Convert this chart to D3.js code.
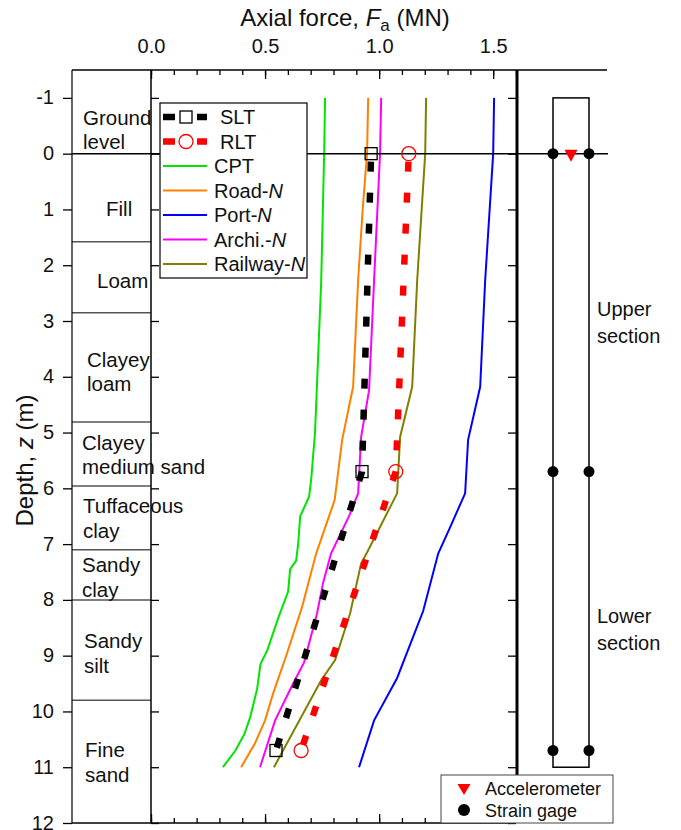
<!DOCTYPE html>
<html>
<head>
<meta charset="utf-8">
<script src="https://cdn.jsdelivr.net/npm/d3@7"></script>
<style>
  body { margin: 0; background: #fff; }
  svg { font-family: Arial, "Liberation Sans", sans-serif; }
</style>
</head>
<body>
<div id="chart"></div>
<script>
// ---- data (depth in m, axial force in MN) ----
const depthTicks = [-1, 0, 1, 2, 3, 4, 5, 6, 7, 8, 9, 10, 11, 12];
const forceTicks = [0.0, 0.5, 1.0, 1.5];

const sltData = [[0, 0.965], [5.7, 0.925], [10.7, 0.548]];
const rltData = [[0, 1.13], [5.7, 1.073], [10.7, 0.658]];

const cptData = [[-1, 0.763], [0, 0.759], [2.3, 0.746], [5.0, 0.719], [5.85, 0.702], [6.15, 0.693],
  [6.5, 0.654], [7.0, 0.645], [7.3, 0.636], [7.45, 0.61], [7.85, 0.601], [8.3, 0.56], [8.9, 0.51],
  [9.15, 0.48], [9.6, 0.465], [10.1, 0.435], [10.4, 0.41], [10.7, 0.37], [11, 0.315]];
const roadData = [[-1, 0.952], [0, 0.947], [1, 0.928], [2.26, 0.908], [4.18, 0.886], [5.13, 0.838],
  [6.21, 0.805], [7.17, 0.724], [8.13, 0.662], [8.96, 0.596], [9.68, 0.535], [10.16, 0.5],
  [10.57, 0.456], [11, 0.395]];
const portData = [[-1, 1.504], [0, 1.5], [2.26, 1.465], [4.18, 1.443], [5.13, 1.39], [6.09, 1.377],
  [6.7, 1.311], [7.17, 1.259], [8.2, 1.193], [9.4, 1.079], [10.16, 0.978], [11, 0.912]];
const archiData = [[-1, 1.009], [0, 1.004], [2.26, 0.978], [4.24, 0.956], [5.08, 0.921], [6.09, 0.908],
  [6.5, 0.868], [7.17, 0.789], [7.7, 0.754], [8.24, 0.728], [9.12, 0.671], [9.5, 0.623],
  [10.16, 0.544], [11, 0.478]];
const railData = [[-1, 1.206], [0, 1.202], [2.26, 1.167], [4.18, 1.145], [5.08, 1.092], [6.09, 1.079],
  [7.15, 0.947], [7.35, 0.921], [8.24, 0.873], [9.08, 0.807], [9.44, 0.746], [11, 0.539]];

const soilNames = [['Ground', 'level'], ['Fill'], ['Loam'], ['Clayey', 'loam'], ['Clayey', 'medium sand'],
  ['Tuffaceous', 'clay'], ['Sandy', 'clay'], ['Sandy', 'silt'], ['Fine', 'sand']];
const soilBounds = [0, 1.58, 2.85, 4.81, 5.96, 7.1, 8.0, 9.8];

const gageDepths = [0, 5.7, 10.7];
const accelDepths = [0];

// ---- layout ----
const width = 681, height = 830;
const soilLeft = 72, plotLeft = 151, plotRight = 516, panelRight = 607;
const pileLeft = 553, pileRight = 589;
const font = 'Arial, "Liberation Sans", sans-serif';

// where each soil label sits: [x, depth of first baseline]
const soilLabelPos = [[83, -0.52], [106, 1.11], [97, 2.41], [87, 3.82], [82, 5.31],
  [83, 6.45], [82, 7.5], [84, 8.87], [85, 10.82]];

const x = d3.scaleLinear().domain([0, 1.6]).range([plotLeft, plotRight]);
const y = d3.scaleLinear().domain([-1.5, 12]).range([70, 823]);

const svg = d3.select('#chart').append('svg')
  .attr('width', width).attr('height', height);

const line = d3.line().x(d => x(d[1])).y(d => y(d[0]));

// soil layer boundaries
svg.append('g').selectAll('line').data(soilBounds.slice(1)).join('line')
  .attr('x1', soilLeft).attr('x2', plotLeft)
  .attr('y1', d => y(d)).attr('y2', d => y(d))
  .attr('stroke', '#555').attr('stroke-width', 1.5);

// soil labels
const soilText = svg.append('g').attr('font-size', 20.5).attr('fill', '#111');
soilNames.forEach((lines, i) => {
  const [lx, ld] = soilLabelPos[i];
  lines.forEach((t, j) => {
    soilText.append('text').attr('x', lx).attr('y', y(ld) + j * 24.5).text(t);
  });
});

// model curves
const curves = [
  {data: cptData, color: '#00e600'},
  {data: roadData, color: '#ff8000'},
  {data: portData, color: '#0000ff'},
  {data: archiData, color: '#ff00ff'},
  {data: railData, color: '#808000'}
];
svg.append('g').selectAll('path').data(curves).join('path')
  .attr('d', d => line(d.data))
  .attr('fill', 'none')
  .attr('stroke', d => d.color)
  .attr('stroke-width', 2);

// measured load test lines
svg.append('path').attr('d', line(sltData))
  .attr('fill', 'none').attr('stroke', '#000')
  .attr('stroke-width', 6.5).attr('stroke-dasharray', '10,21').attr('stroke-dashoffset', -8);
svg.append('path').attr('d', line(rltData))
  .attr('fill', 'none').attr('stroke', '#ff0000')
  .attr('stroke-width', 6.5).attr('stroke-dasharray', '10,21').attr('stroke-dashoffset', -8);

// frame lines
const frame = svg.append('g').attr('stroke', '#000');
frame.append('line').attr('x1', soilLeft).attr('x2', panelRight).attr('y1', y(-1.5)).attr('y2', y(-1.5)).attr('stroke-width', 1.5);
frame.append('line').attr('x1', soilLeft).attr('x2', plotRight).attr('y1', y(12)).attr('y2', y(12)).attr('stroke-width', 1.5);
frame.append('line').attr('x1', soilLeft).attr('x2', soilLeft).attr('y1', y(-1.5)).attr('y2', y(12)).attr('stroke-width', 1.2);
frame.append('line').attr('x1', plotLeft).attr('x2', plotLeft).attr('y1', y(-1.5)).attr('y2', y(12)).attr('stroke-width', 1.5);
frame.append('line').attr('x1', plotRight + 1).attr('x2', plotRight + 1).attr('y1', y(-1.5)).attr('y2', y(12)).attr('stroke-width', 3);

// axes
function styleAxis(g) {
  g.select('.domain').remove();
  g.attr('font-family', font).attr('font-size', 20);
  g.selectAll('line').attr('stroke-width', 1.3);
  g.selectAll('text').attr('fill', '#111');
}
const minorTicks = d3.range(0, 1.601, 0.1);

svg.append('g').attr('transform', `translate(0,${y(-1.5)})`)
  .call(d3.axisTop(x).tickValues(minorTicks).tickSize(-5).tickFormat(''))
  .call(styleAxis);
svg.append('g').attr('transform', `translate(0,${y(-1.5)})`)
  .call(d3.axisTop(x).tickValues(forceTicks).tickSizeInner(-9).tickSizeOuter(0)
    .tickPadding(17).tickFormat(d3.format('.1f')))
  .call(styleAxis);
svg.append('g').attr('transform', `translate(0,${y(12)})`)
  .call(d3.axisBottom(x).tickValues(minorTicks).tickSize(-5).tickFormat(''))
  .call(styleAxis);
svg.append('g').attr('transform', `translate(0,${y(12)})`)
  .call(d3.axisBottom(x).tickValues(forceTicks).tickSize(-9).tickFormat(''))
  .call(styleAxis);

svg.append('g').attr('transform', `translate(${soilLeft},0)`)
  .call(d3.axisLeft(y).tickValues(depthTicks).tickSize(9).tickPadding(9).tickFormat(d => String(d)))
  .call(styleAxis)
  .call(g => g.selectAll('text').attr('dy', '0.3em'));
svg.append('g').attr('transform', `translate(${plotLeft},0)`)
  .call(d3.axisRight(y).tickValues(depthTicks).tickSize(8).tickFormat(''))
  .call(styleAxis);
svg.append('g').attr('transform', `translate(${plotRight},0)`)
  .call(d3.axisLeft(y).tickValues(depthTicks).tickSize(8).tickFormat(''))
  .call(styleAxis);

// axis titles
const xTitle = svg.append('text').attr('x', 345).attr('y', 26)
  .attr('text-anchor', 'middle').attr('font-size', 24).attr('fill', '#111');
xTitle.append('tspan').text('Axial force, ');
xTitle.append('tspan').attr('font-style', 'italic').text('F');
xTitle.append('tspan').attr('font-size', 17).attr('dy', 5).text('a');
xTitle.append('tspan').attr('dy', -5).text(' (MN)');

const yTitle = svg.append('text')
  .attr('transform', `translate(33,${y(5.5)}) rotate(-90)`)
  .attr('text-anchor', 'middle').attr('font-size', 24).attr('fill', '#111');
yTitle.append('tspan').text('Depth, ');
yTitle.append('tspan').attr('font-style', 'italic').text('z');
yTitle.append('tspan').text(' (m)');

// pile sketch on the right
svg.append('rect')
  .attr('x', pileLeft).attr('y', y(-1))
  .attr('width', pileRight - pileLeft).attr('height', y(11) - y(-1))
  .attr('fill', 'none').attr('stroke', '#000').attr('stroke-width', 1.5);

// ground line
svg.append('line')
  .attr('x1', soilLeft).attr('x2', panelRight + 1)
  .attr('y1', y(0)).attr('y2', y(0))
  .attr('stroke', '#000').attr('stroke-width', 1.5);

// measured markers
svg.append('g').selectAll('rect').data(sltData).join('rect')
  .attr('x', d => x(d[1]) - 6).attr('y', d => y(d[0]) - 6)
  .attr('width', 12).attr('height', 12)
  .attr('fill', 'none').attr('stroke', '#000').attr('stroke-width', 1.3);
svg.append('g').selectAll('circle').data(rltData).join('circle')
  .attr('cx', d => x(d[1])).attr('cy', d => y(d[0])).attr('r', 7)
  .attr('fill', 'none').attr('stroke', '#ff0000').attr('stroke-width', 1.3);

// sensors
const gages = gageDepths.flatMap(d => [[pileLeft, d], [pileRight, d]]);
svg.append('g').selectAll('circle').data(gages).join('circle')
  .attr('cx', d => d[0]).attr('cy', d => y(d[1])).attr('r', 5.5).attr('fill', '#000');
svg.append('g').selectAll('path').data(accelDepths).join('path')
  .attr('d', d => `M${(pileLeft + pileRight) / 2 - 6.5},${y(d) - 4}h13l-6.5,12z`)
  .attr('fill', '#ff0000');

// section labels
const secText = svg.append('g').attr('font-size', 20).attr('fill', '#111');
[['Upper', 'section', 316], ['Lower', 'section', 623]].forEach(([a, b, by]) => {
  secText.append('text').attr('x', 597).attr('y', by).text(a);
  secText.append('text').attr('x', 597).attr('y', by + 27).text(b);
});

// main legend
const legend = svg.append('g').attr('font-size', 20).attr('fill', '#111');
legend.append('rect').attr('x', 160).attr('y', 103).attr('width', 147).attr('height', 175)
  .attr('fill', '#fff').attr('stroke', '#000').attr('stroke-width', 1.2);
const legendItems = [
  {name: ['SLT'], color: '#000', kind: 'square'},
  {name: ['RLT'], color: '#ff0000', kind: 'circle'},
  {name: ['CPT'], color: '#00e600'},
  {name: ['Road-', 'N'], color: '#ff8000'},
  {name: ['Port-', 'N'], color: '#0000ff'},
  {name: ['Archi.-', 'N'], color: '#ff00ff'},
  {name: ['Railway-', 'N'], color: '#808000'}
];
legendItems.forEach((it, i) => {
  const ly = 117 + i * 24.5;
  if (it.kind) {
    legend.append('line').attr('x1', 163).attr('x2', 207).attr('y1', ly).attr('y2', ly)
      .attr('stroke', it.color).attr('stroke-width', 6.5).attr('stroke-dasharray', '12,22');
    if (it.kind === 'square') {
      legend.append('rect').attr('x', 180).attr('y', ly - 6).attr('width', 12).attr('height', 12)
        .attr('fill', '#fff').attr('stroke', '#000').attr('stroke-width', 1.3);
    } else {
      legend.append('circle').attr('cx', 186).attr('cy', ly).attr('r', 7)
        .attr('fill', '#fff').attr('stroke', '#ff0000').attr('stroke-width', 1.3);
    }
  } else {
    legend.append('line').attr('x1', 163).attr('x2', 207).attr('y1', ly).attr('y2', ly)
      .attr('stroke', it.color).attr('stroke-width', 2);
  }
  const t = legend.append('text').attr('x', it.kind ? 220 : 214).attr('y', ly + 7);
  t.append('tspan').text(it.name[0]);
  if (it.name[1]) t.append('tspan').attr('font-style', 'italic').text(it.name[1]);
});

// sensor legend
const legend2 = svg.append('g').attr('font-size', 18).attr('fill', '#111');
legend2.append('rect').attr('x', 441).attr('y', 775).attr('width', 172).attr('height', 48)
  .attr('fill', '#fff').attr('stroke', '#444').attr('stroke-width', 1);
legend2.append('path').attr('d', 'M457.5,784h13l-6.5,11z').attr('fill', '#ff0000');
legend2.append('circle').attr('cx', 464).attr('cy', 810).attr('r', 6).attr('fill', '#000');
legend2.append('text').attr('x', 485).attr('y', 795).text('Accelerometer');
legend2.append('text').attr('x', 485).attr('y', 817).text('Strain gage');
</script>
</body>
</html>
